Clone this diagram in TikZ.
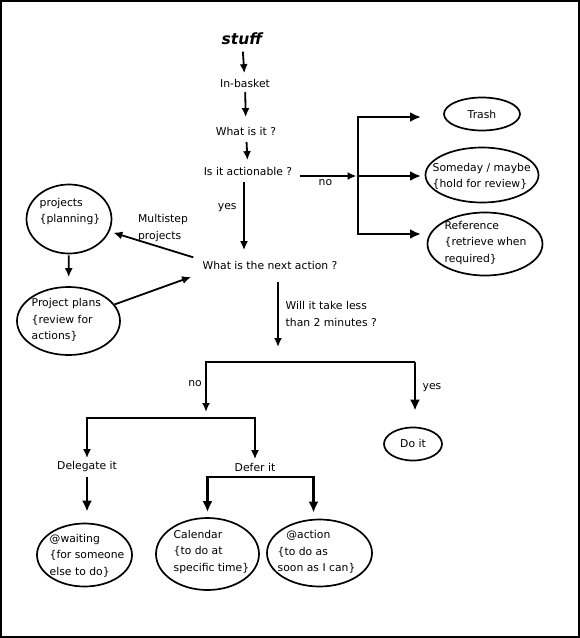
\documentclass[tikz,border=0pt]{standalone}
\usepackage{fontspec}
\setmainfont{DejaVu Sans}
\usetikzlibrary{arrows.meta,shapes.geometric}

\begin{document}
\begin{tikzpicture}[x=1pt,y=-1pt]
  \tikzset{vertex/.style = {draw=none,inner sep=0.5pt,font=\fontsize{10.8}{16.5}\selectfont}}
  \tikzset{blob/.style = {draw,ellipse,line width=1.7pt,inner sep=0pt}}
  \tikzset{edge/.style = {-{Latex[length=9pt,width=8pt]},line width=1.8pt}}
  \tikzset{fork/.style = {-{Latex[length=11pt,width=10pt]},line width=2.6pt}}

  \useasboundingbox (0,0) rectangle (580,638);
  \draw[line width=2pt] (1,1) rectangle (579,637);

% main column
\node[vertex,font=\fontsize{15.5}{18}\selectfont\bfseries\itshape] (stuff) at (242,39) {stuff};
\node[vertex] (basket) at (245,83) {In-basket};
\node[vertex] (what) at (246,131) {What is it ?};
\node[vertex] (actionable) at (248,171) {Is it actionable ?};
\node[vertex] (next) at (270,265) {What is the next action ?};

\draw[edge,shorten <=6pt,shorten >=5pt] (stuff) -- (basket);
\draw[edge,shorten <=4pt,shorten >=9pt] (basket) -- (what);
\draw[edge,shorten <=6pt,shorten >=6pt] (what) -- (actionable);
\draw[edge,shorten <=6pt,shorten >=10pt] ([xshift=-4pt]actionable.south) -- ([xshift=-4pt]actionable.south |- next.north)
      node[vertex,left=6pt,pos=0.38] (yes1) {yes};

% not actionable
\coordinate (forktop) at (358,117);
\coordinate (forkmid) at (358,176);
\coordinate (forkbot) at (358,234);
\coordinate (totrash) at (421,117);
\coordinate (tosomeday) at (421,176);
\coordinate (toref) at (421,234);

\draw[edge,shorten <=7pt,shorten >=1.5pt] ([yshift=-5pt]actionable.east) -- (forkmid)
      node[vertex,below=2pt,midway] (no1) {no};
\draw[fork] (forkbot) |- (totrash);
\draw[fork] (forktop) |- (toref);
\draw[fork] (forkmid) -- (tosomeday);

\node[blob,minimum width=76,minimum height=33] (trash) at (482,114) {};
\node[vertex] (trashtext) at (trash) {Trash};
\node[blob,minimum width=113,minimum height=55] (someday) at (482,175) {};
\node[vertex,align=left,anchor=west] (somedaytext) at (432,176.5) {Someday / maybe\\\{hold for review\}};
\node[blob,minimum width=115,minimum height=63] (reference) at (485,244) {};
\node[vertex,align=left,anchor=west] (referencetext) at (444,243) {Reference\\\{retrieve when\\required\}};

% projects
\node[blob,minimum width=85,minimum height=69] (projects) at (69,219) {};
\node[vertex,align=left,anchor=west] (projectstext) at (39,211.5) {projects\\\{planning\}};
\node[blob,minimum width=103,minimum height=68] (plans) at (68.5,321) {};
\node[vertex,align=left,anchor=west] (planstext) at (31,320) {Project plans\\\{review for\\actions\}};
\node[vertex,align=left] (multistep) at (163,228) {Multistep\\projects};

\draw[edge,shorten <=1pt,shorten >=9pt] (projects) -- (plans);
\draw[edge,shorten >=11.5pt] (plans) -- ([yshift=-8pt]next.west);
\draw[edge,shorten <=9pt,shorten >=4pt] ([yshift=5pt]next.west) -- (projects);

% two minutes
\coordinate (ask) at (278,347);
\coordinate (barright) at (415,362);
\coordinate (noend) at (206,412);
\node[vertex,align=left,anchor=west] (twomin) at (285,314) {Will it take less\\than 2 minutes ?};
\draw[edge,shorten <=12pt] (next.south -| ask) -- (ask);

\node[blob,minimum width=58,minimum height=33] (doit) at (413,444) {};
\node[vertex] (doittext) at (413,443) {Do it};
\draw[edge] (barright) -| (noend);
\draw[fork,shorten >=16pt] (barright) -- (barright |- doit.north);
\node[vertex] (no2) at (195,384) {no};
\node[vertex] (yes2) at (432,388) {yes};

% delegate or defer
\coordinate (split) at (170,418);
\coordinate (deferbar) at (260,477);
\node[vertex] (delegate) at (87,467) {Delegate it};
\node[vertex] (defer) at (255,467) {Defer it};
\draw[edge,{Latex[length=9pt,width=8pt]}-{Latex[length=9pt,width=8pt]},shorten <=3pt,shorten >=3pt] (delegate) |- (split) -| (defer);

\node[blob,minimum width=95,minimum height=63] (waiting) at (84.5,555) {};
\node[vertex,align=left,anchor=west] (waitingtext) at (49,555.5) {@waiting\\\{for someone\\else to do\}};
\node[blob,minimum width=103,minimum height=72] (calendar) at (207.5,554) {};
\node[vertex,align=left,anchor=west] (calendartext) at (173,552) {Calendar\\\{to do at\\specific time\}};
\node[blob,minimum width=105,minimum height=67] (action) at (319.5,553) {};
\node[vertex,align=left,anchor=west] (actiontext) at (277,552) {\hspace{0.8em}@action\\\{to do as\\soon as I can\}};

\draw[fork,shorten <=4pt,shorten >=11pt] (delegate.south) -- (delegate.south |- waiting.north);
\draw[fork,{Latex[length=11pt,width=10pt]}-{Latex[length=11pt,width=10pt]},shorten <=5pt,shorten >=6pt] (calendar) |- (deferbar) -| ([xshift=-6pt]action.north);

\end{tikzpicture}
\end{document}
